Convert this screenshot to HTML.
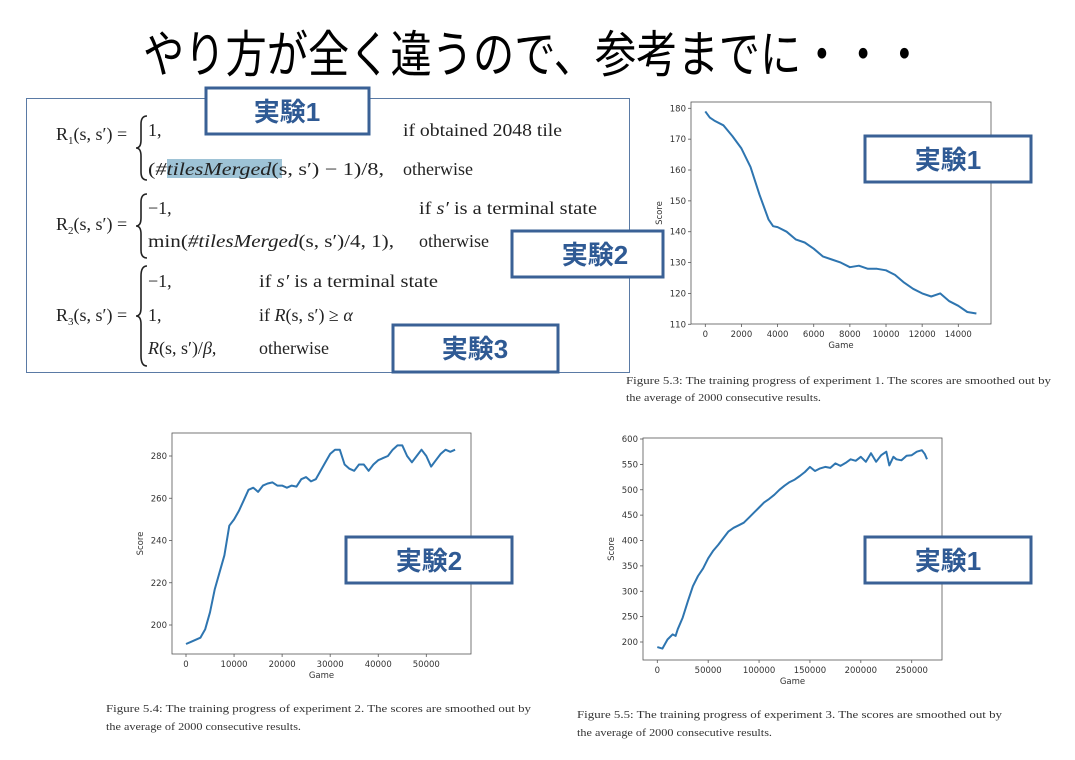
<!DOCTYPE html>
<html><head><meta charset="utf-8">
<style>
body{margin:0;width:1075px;height:760px;background:#fff;overflow:hidden;font-family:"Liberation Sans","Noto Sans CJK JP",sans-serif;}
svg{position:absolute;left:0;top:0}
.tick{font-family:"DejaVu Sans","Liberation Sans",sans-serif;font-size:8.5px;fill:#333}
.cap{font-family:"Liberation Serif",serif;font-size:10.5px;fill:#333}
.math{font-family:"Liberation Serif",serif;font-size:18px;fill:#222}
.lbl{font-family:"Liberation Sans","Noto Sans CJK JP",sans-serif;font-weight:bold;font-size:26px;fill:#2f5a94}
</style></head><body>
<svg id="s" width="1075" height="760">
<text x="534" y="72" text-anchor="middle" font-family="'Noto Sans CJK JP',sans-serif" font-size="50" fill="#000" textLength="782" lengthAdjust="spacingAndGlyphs">やり方が全く違うので、参考までに・・・</text>

<g>
<rect x="26.5" y="98.5" width="603" height="274" fill="#fff" stroke="#5a7aa5" stroke-width="1"/>
<rect id="hl" x="167" y="159" width="115" height="19" fill="#9ec3d6"/>
<g class="math">
<text x="56" y="140">R<tspan font-size="11" dy="4">1</tspan><tspan dy="-4">(s, s′) =</tspan></text>
<text x="56" y="230">R<tspan font-size="11" dy="4">2</tspan><tspan dy="-4">(s, s′) =</tspan></text>
<text x="56" y="321">R<tspan font-size="11" dy="4">3</tspan><tspan dy="-4">(s, s′) =</tspan></text>
<text x="148" y="136">1,</text>
<text x="148" y="175" textLength="236" lengthAdjust="spacingAndGlyphs">(<tspan font-style="italic">#tilesMerged</tspan>(s, s′) − 1)/8,</text>
<text x="403" y="136" textLength="159" lengthAdjust="spacingAndGlyphs">if obtained 2048 tile</text>
<text x="403" y="175">otherwise</text>
<text x="148" y="214">−1,</text>
<text x="148" y="247" textLength="246" lengthAdjust="spacingAndGlyphs">min(<tspan font-style="italic">#tilesMerged</tspan>(s, s′)/4, 1),</text>
<text x="419" y="214" textLength="178" lengthAdjust="spacingAndGlyphs">if <tspan font-style="italic">s′</tspan> is a terminal state</text>
<text x="419" y="247">otherwise</text>
<text x="148" y="287">−1,</text>
<text x="148" y="321">1,</text>
<text x="148" y="354"><tspan font-style="italic">R</tspan>(s, s′)/<tspan font-style="italic">β</tspan>,</text>
<text x="259" y="287" textLength="179" lengthAdjust="spacingAndGlyphs">if <tspan font-style="italic">s′</tspan> is a terminal state</text>
<text x="259" y="321">if <tspan font-style="italic">R</tspan>(s, s′) ≥ <tspan font-style="italic">α</tspan></text>
<text x="259" y="354">otherwise</text>
</g>
<g fill="none" stroke="#222" stroke-width="1.6">
<path d="M147 116 q-6 0 -6 8 v16 q0 8 -5 8 q5 0 5 8 v16 q0 8 6 8"/>
<path d="M147 194 q-6 0 -6 8 v16 q0 8 -5 8 q5 0 5 8 v16 q0 8 6 8"/>
<path d="M147 266 q-6 0 -6 10 v32 q0 8 -5 8 q5 0 5 8 v32 q0 10 6 10"/>
</g>
</g>

<g><rect x="206" y="88" width="163" height="46" fill="#fff" stroke="#3a6196" stroke-width="3"/><text class="lbl" x="287" y="121" text-anchor="middle">実験1</text></g>
<g><rect x="512" y="231" width="151" height="46" fill="#fff" stroke="#3a6196" stroke-width="3"/><text class="lbl" x="595" y="264" text-anchor="middle">実験2</text></g>
<g><rect x="393" y="325" width="165" height="47" fill="#fff" stroke="#3a6196" stroke-width="3"/><text class="lbl" x="475" y="358" text-anchor="middle">実験3</text></g>

<g id="c1"></g>
<g id="c2"></g>
<g id="c3"></g>

<g><text class="cap" x="626" y="384" textLength="425" lengthAdjust="spacingAndGlyphs">Figure 5.3:  The training progress of experiment 1.  The scores are smoothed out by</text><text class="cap" x="626" y="401" textLength="195" lengthAdjust="spacingAndGlyphs">the average of 2000 consecutive results.</text></g>
<g><text class="cap" x="106" y="712" textLength="425" lengthAdjust="spacingAndGlyphs">Figure 5.4:  The training progress of experiment 2.  The scores are smoothed out by</text><text class="cap" x="106" y="730" textLength="195" lengthAdjust="spacingAndGlyphs">the average of 2000 consecutive results.</text></g>
<g><text class="cap" x="577" y="718" textLength="425" lengthAdjust="spacingAndGlyphs">Figure 5.5:  The training progress of experiment 3.  The scores are smoothed out by</text><text class="cap" x="577" y="736" textLength="195" lengthAdjust="spacingAndGlyphs">the average of 2000 consecutive results.</text></g>

<g id="labels"></g>
</svg>
<script>
const games1=[0,250,500,1000,1500,2000,2500,3000,3500,3750,4000,4500,5000,5500,6000,6500,7000,7500,8000,8500,9000,9500,10000,10500,11000,11500,12000,12500,13000,13500,14000,14500,15000];
const scores1=[179,177,176,174.5,171,167,161,152,144,141.8,141.5,140,137.5,136.5,134.5,132,131,130,128.5,129,128,128,127.5,126,123.5,121.5,120,119,120,117.5,116,114,113.5];
const xticks1=[0,2000,4000,6000,8000,10000,12000,14000];
const yticks1=[110,120,130,140,150,160,170,180];

const games2=[0,1000,2000,3000,4000,5000,6000,7000,8000,9000,10000,11000,12000,13000,14000,15000,16000,17000,18000,19000,20000,21000,22000,23000,24000,25000,26000,27000,28000,29000,30000,31000,32000,33000,34000,35000,36000,37000,38000,39000,40000,41000,42000,43000,44000,45000,46000,47000,48000,49000,50000,51000,52000,53000,54000,55000,56000];
const scores2=[191,192,193,194,198,206,217,225,233,247,250,254,259,264,265,263,266,267,267.5,266,266,265,266,265.5,269,270,268,269,273,277,281,283,283,276,274,273,276,276,273,276,278,279,280,283,285,285,280,277,280,283,280,275,278,281,283,282,283];
const xticks2=[0,10000,20000,30000,40000,50000];
const yticks2=[200,220,240,260,280];

const games3=[0,5000,10000,15000,18000,20000,25000,30000,35000,40000,45000,50000,55000,60000,65000,70000,75000,80000,85000,90000,95000,100000,105000,110000,115000,120000,125000,130000,135000,140000,145000,150000,155000,160000,165000,170000,175000,180000,185000,190000,195000,200000,205000,210000,215000,220000,225000,228000,232000,235000,240000,245000,250000,255000,260000,263000,265000];
const scores3=[190,187,205,215,212,225,248,280,310,330,345,365,380,392,405,418,425,430,435,445,455,465,475,482,490,500,508,515,520,527,535,545,537,542,545,543,552,547,553,560,557,565,555,572,555,568,575,548,565,560,558,567,568,575,578,570,560];
const xticks3=[0,50000,100000,150000,200000,250000];
const yticks3=[200,250,300,350,400,450,500,550,600];

const NS='http://www.w3.org/2000/svg';
function mk(p,t,a){const e=document.createElementNS(NS,t);for(const k in a)e.setAttribute(k,a[k]);p.appendChild(e);return e;}
function chart(g,box,xd,yd,games,scores,xt,yt){
  const sx=v=>xd[2]+(v-xd[0])/(xd[1]-xd[0])*(xd[3]-xd[2]);
  const sy=v=>yd[2]+(v-yd[0])/(yd[1]-yd[0])*(yd[3]-yd[2]);
  const fr=mk(g,'rect',{x:box[0],y:box[1],width:box[2]-box[0],height:box[3]-box[1],fill:'#fff',stroke:'#555','stroke-width':0.8});
  
  
  xt.forEach(v=>{
    mk(g,'line',{x1:sx(v),x2:sx(v),y1:box[3],y2:box[3]+3,stroke:'#555','stroke-width':0.8});
    const t=mk(g,'text',{x:sx(v),y:box[3]+13,'text-anchor':'middle',class:'tick'});t.textContent=v;
    
    
  });
  yt.forEach(v=>{
    mk(g,'line',{x1:box[0]-3,x2:box[0],y1:sy(v),y2:sy(v),stroke:'#555','stroke-width':0.8});
    const t=mk(g,'text',{x:box[0]-5,y:sy(v)+3,'text-anchor':'end',class:'tick'});t.textContent=v;
    
    
  });
  const xl=mk(g,'text',{x:(box[0]+box[2])/2,y:box[3]+24,'text-anchor':'middle',class:'tick'});xl.textContent='Game';
  
  
  const cy=(box[1]+box[3])/2;
  const yl=mk(g,'text',{x:box[0]-29,y:cy,'text-anchor':'middle',class:'tick',transform:`rotate(-90 ${box[0]-29} ${cy})`});yl.textContent='Score';
  
  
  const d=games.map((v,i)=>(i?'L':'M')+sx(v).toFixed(1)+' '+sy(scores[i]).toFixed(1)).join(' ');
  const p=mk(g,'path',{d:d,fill:'none',stroke:'#2e75b0','stroke-width':2,'stroke-linejoin':'round'});
  
  
}
chart(document.getElementById('c1'),[691,102,991,324],[0,14000,705.3,958.3],[110,180,324.3,108.3],games1,scores1,xticks1,yticks1);
chart(document.getElementById('c2'),[172,433,471,654],[0,50000,186,426.3],[200,280,625,456],games2,scores2,xticks2,yticks2);
chart(document.getElementById('c3'),[643,438,942,660],[0,250000,657.3,911.7],[200,600,642,439],games3,scores3,xticks3,yticks3);

const L=document.getElementById('labels');
[[864,135,'実験1','label-exp1-chart'],[345,536,'実験2','label-exp2-chart'],[864,536,'実験1','label-exp3-chart']].forEach(a=>{
  const g=mk(L,'g',{});
  
  
  mk(g,'rect',{x:a[0]+1,y:a[1]+1,width:166,height:46,fill:'#fff',stroke:'#3a6196','stroke-width':3});
  const t=mk(g,'text',{x:a[0]+84,y:a[1]+34,'text-anchor':'middle',class:'lbl'});t.textContent=a[2];
});
</script>
</body></html>
